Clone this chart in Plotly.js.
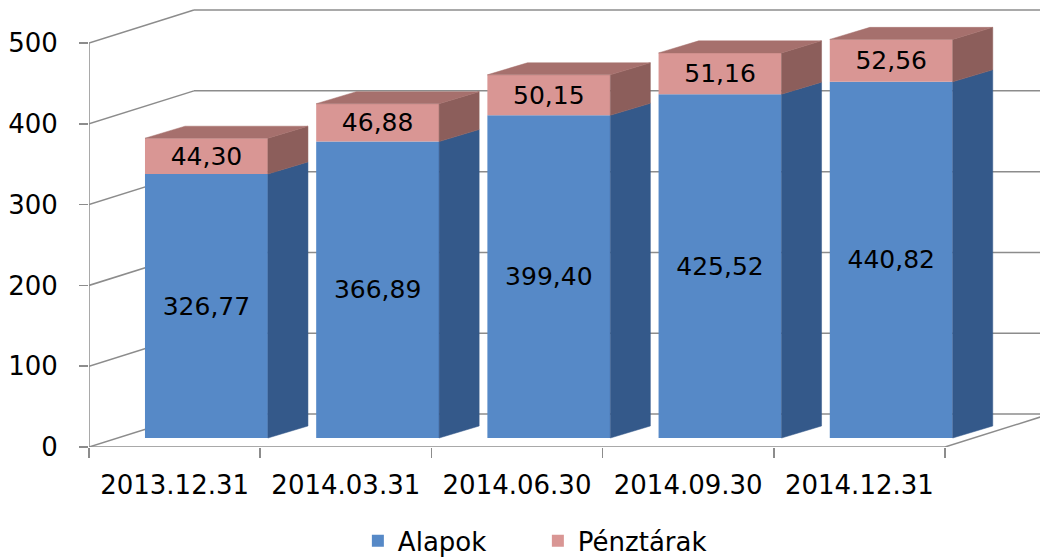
<!DOCTYPE html>
<html>
<head>
<meta charset="utf-8">
<script src="https://cdn.plot.ly/plotly-3.0.1.min.js"></script>
<style>html,body{margin:0;padding:0;background:#fff;}#chart{width:1040px;height:558px;}</style>
</head>
<body>
<div id="chart"></div>
<script>
// ---- data ----
const categories = ['2013.12.31', '2014.03.31', '2014.06.30', '2014.09.30', '2014.12.31'];
const alapok = [326.77, 366.89, 399.40, 425.52, 440.82];
const penztarak = [44.30, 46.88, 50.15, 51.16, 52.56];
const yTicks = [0, 100, 200, 300, 400, 500];
const seriesNames = ['Alapok', 'Pénztárak'];

// ---- 3D look geometry (axis units) ----
const X0 = -0.5, X1 = 5.055, Y1 = 548.3;
const WX = 0.613, WY = 40.8;      // back wall depth offset
const BAR_OFF = -0.173, BAR_W = 0.718; // bar front face placement
const SY = 11.1;                   // bar base lift (bar sits inside depth)
const DX = 0.234, DY = 14.9;       // bar depth
const grid = '#8c8c8c';
const FONT = 'DejaVu Sans';

const xs = categories.map((c, i) => i);
const baseA = xs.map(() => SY);
const baseP = alapok.map(v => SY + v);

function sidePoly(lo, hi) {
  const px = [], py = [];
  xs.forEach((x, i) => {
    const xr = x + BAR_OFF + BAR_W;
    px.push(xr, xr + DX, xr + DX, xr, xr, null);
    py.push(lo[i], lo[i] + DY, hi[i] + DY, hi[i], lo[i], null);
  });
  return {px, py};
}
const tops = alapok.map((v, i) => SY + v + penztarak[i]);
const blueSide = sidePoly(baseA, baseP);
const pinkSide = sidePoly(baseP, tops);
const topX = [], topY = [];
xs.forEach((x, i) => {
  const xl = x + BAR_OFF, xr = xl + BAR_W, t = tops[i];
  topX.push(xl, xr, xr + DX, xl + DX, xl, null);
  topY.push(t, t, t + DY, t + DY, t, null);
});

const traces = [
  {type: 'bar', name: seriesNames[0], x: xs, y: alapok, base: baseA, width: BAR_W, offset: BAR_OFF,
   marker: {color: '#5689c7', line: {width: 0}},
   texttemplate: '%{y:.2f}', textposition: 'inside', insidetextanchor: 'middle', constraintext: 'none',
   textangle: 0, textfont: {family: FONT, size: 25, color: '#000'}, hoverinfo: 'skip'},
  {type: 'bar', name: seriesNames[1], x: xs, y: penztarak, base: baseP, width: BAR_W, offset: BAR_OFF,
   marker: {color: '#d99694', line: {width: 0}},
   texttemplate: '%{y:.2f}', textposition: 'inside', insidetextanchor: 'middle', constraintext: 'none',
   textangle: 0, textfont: {family: FONT, size: 25, color: '#000'}, hoverinfo: 'skip'},
  {type: 'scatter', mode: 'lines', x: blueSide.px, y: blueSide.py, fill: 'toself', fillcolor: '#34598a',
   line: {color: '#34598a', width: 0.5}, showlegend: false, hoverinfo: 'skip'},
  {type: 'scatter', mode: 'lines', x: pinkSide.px, y: pinkSide.py, fill: 'toself', fillcolor: '#8c5e5b',
   line: {color: '#8c5e5b', width: 0.5}, showlegend: false, hoverinfo: 'skip'},
  {type: 'scatter', mode: 'lines', x: topX, y: topY, fill: 'toself', fillcolor: '#a6706d',
   line: {color: '#a6706d', width: 0.5}, showlegend: false, hoverinfo: 'skip'}
];

// gridlines on the walls, derived from tick values
const shapes = [];
const ln = (xa, ya, xb, yb) => ({type: 'line', xref: 'x', yref: 'y', x0: xa, y0: ya, x1: xb, y1: yb,
  layer: 'below', line: {color: grid, width: 1.5}});
yTicks.forEach(v => {
  shapes.push(ln(X0, v, X0 + WX, v + WY));
  shapes.push(ln(X0 + WX, v + WY, X1, v + WY));
});
shapes.push(ln(X0, 0, X0, yTicks[yTicks.length - 1]));        // y axis line
shapes.push(ln(X0, 0, categories.length - 0.5, 0));           // floor front edge
shapes.push(ln(categories.length - 0.5, 0, categories.length - 0.5 + WX, WY)); // floor right edge

const boundaries = categories.map((c, i) => i - 0.5).concat([categories.length - 0.5]);

const layout = {
  width: 1040, height: 558,
  margin: {l: 89, r: 0, t: 4, b: 111, autoexpand: false},
  paper_bgcolor: '#fff', plot_bgcolor: '#fff',
  separators: ', ',
  barmode: 'overlay',
  showlegend: true,
  font: {family: FONT, size: 26, color: '#000'},
  xaxis: {range: [X0, X1], showgrid: false, zeroline: false, showline: false,
    tickmode: 'array', tickvals: xs, ticktext: categories, ticks: '',
    tickfont: {family: FONT, size: 26, color: '#000'}, ticklabelstandoff: 20,
    minor: {tickmode: 'array', tickvals: boundaries, ticks: 'outside', ticklen: 10, tickcolor: grid, tickwidth: 1.5, showgrid: false},
    fixedrange: true, automargin: false},
  yaxis: {range: [0, Y1], showgrid: false, zeroline: false, showline: false,
    tickmode: 'array', tickvals: yTicks, ticks: 'outside', ticklen: 9, tickcolor: grid, tickwidth: 1.5,
    tickfont: {family: FONT, size: 26, color: '#000'}, ticklabelstandoff: 16, fixedrange: true, automargin: false},
  legend: {orientation: 'h', x: 0.472, xanchor: 'center', y: -0.212, yanchor: 'middle',
    font: {family: FONT, size: 26, color: '#000'}, traceorder: 'normal', itemclick: false,
    entrywidth: 135, entrywidthmode: 'pixels'},
  shapes: shapes
};

Plotly.newPlot('chart', traces, layout, {displayModeBar: false, staticPlot: true});
</script>
</body>
</html>
